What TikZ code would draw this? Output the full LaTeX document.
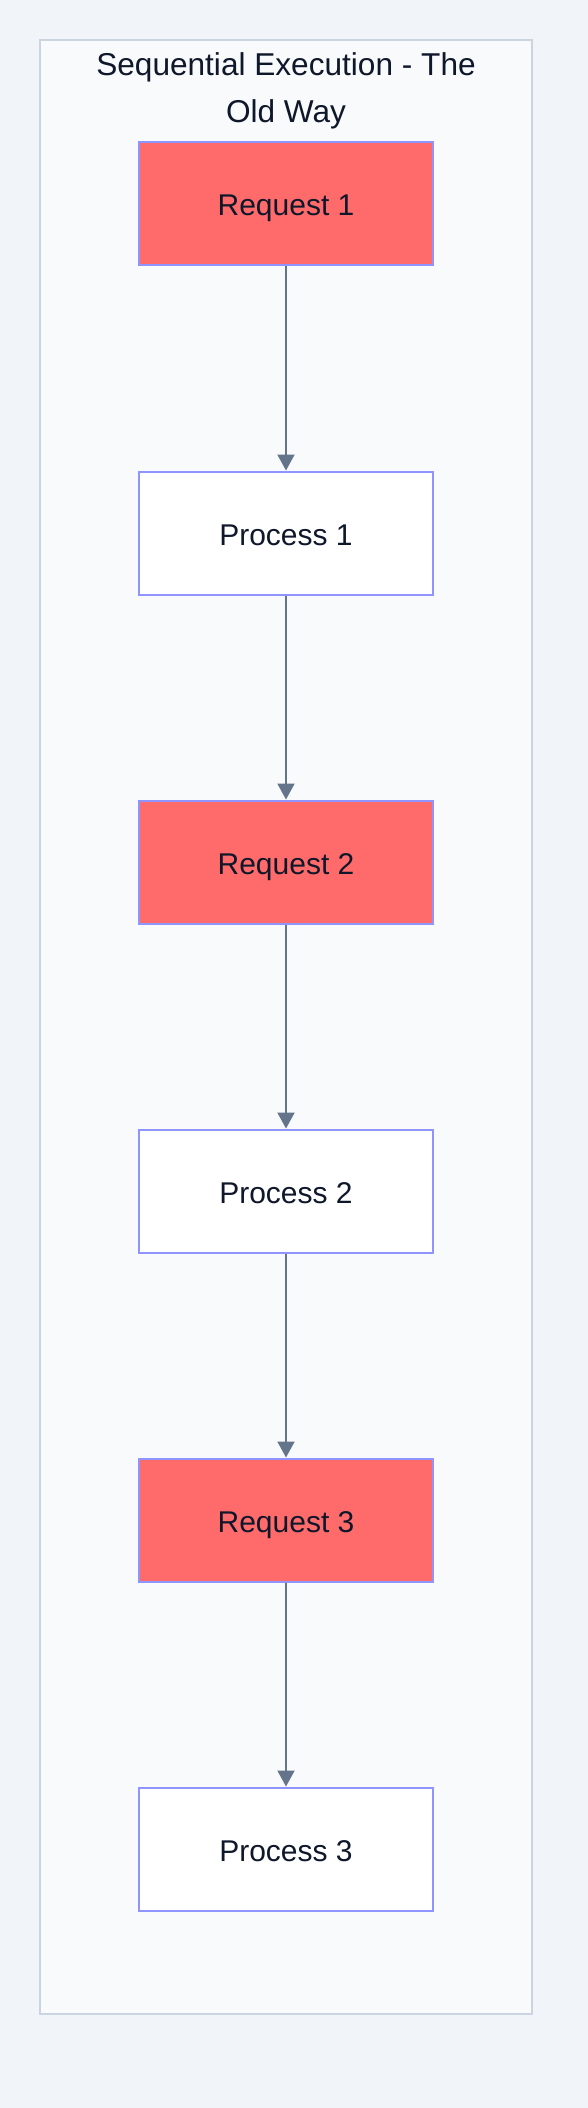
\documentclass[tikz,border=0pt]{standalone}
\usepackage{fontspec}
\setmainfont{Liberation Sans}
\usetikzlibrary{positioning,arrows.meta}

\definecolor{pagebg}{HTML}{F1F5F9}
\definecolor{framefill}{HTML}{F8FAFC}
\definecolor{frameline}{HTML}{CBD5E1}
\definecolor{reqred}{HTML}{FF6B6B}
\definecolor{boxline}{HTML}{8F94FF}
\definecolor{flowgrey}{HTML}{64748B}
\definecolor{inkdark}{HTML}{0F172A}

\begin{document}
\begin{tikzpicture}[x=0.5pt, y=-0.5pt, node distance=102pt,
  every node/.style={text=inkdark, font=\fontsize{15}{23.5}\selectfont},
  stepbox/.style={draw=boxline, line width=1pt, minimum width=147pt, minimum height=61.5pt,
    inner sep=0pt, text height=12pt, text depth=0pt},
  request/.style={stepbox, fill=reqred},
  process/.style={stepbox, fill=white},
  flow/.style={draw=flowgrey, line width=1pt, -{Triangle[length=8pt,width=8.5pt]}}]
  % page and frame
  \fill[pagebg] (0,0) rectangle (588,2108);
  \useasboundingbox (0,0) rectangle (588,2108);
  \draw[frameline, fill=framefill, line width=1pt] (40,40) rectangle (532,2014);
  \node[align=center, font=\fontsize{15.8}{23.5}\selectfont] (title) at (286,91) {Sequential Execution - The\\Old Way};

  % the chain
  \node[request] (req1) at (286,204) {Request 1};
  \node[process, below=of req1] (proc1) {Process 1};
  \node[request, below=of proc1] (req2) {Request 2};
  \node[process, below=of req2] (proc2) {Process 2};
  \node[request, below=of proc2] (req3) {Request 3};
  \node[process, below=of req3] (proc3) {Process 3};

  \foreach \a/\b in {req1/proc1, proc1/req2, req2/proc2, proc2/req3, req3/proc3}
    \draw[flow] (\a) -- (\b);
\end{tikzpicture}
\end{document}
